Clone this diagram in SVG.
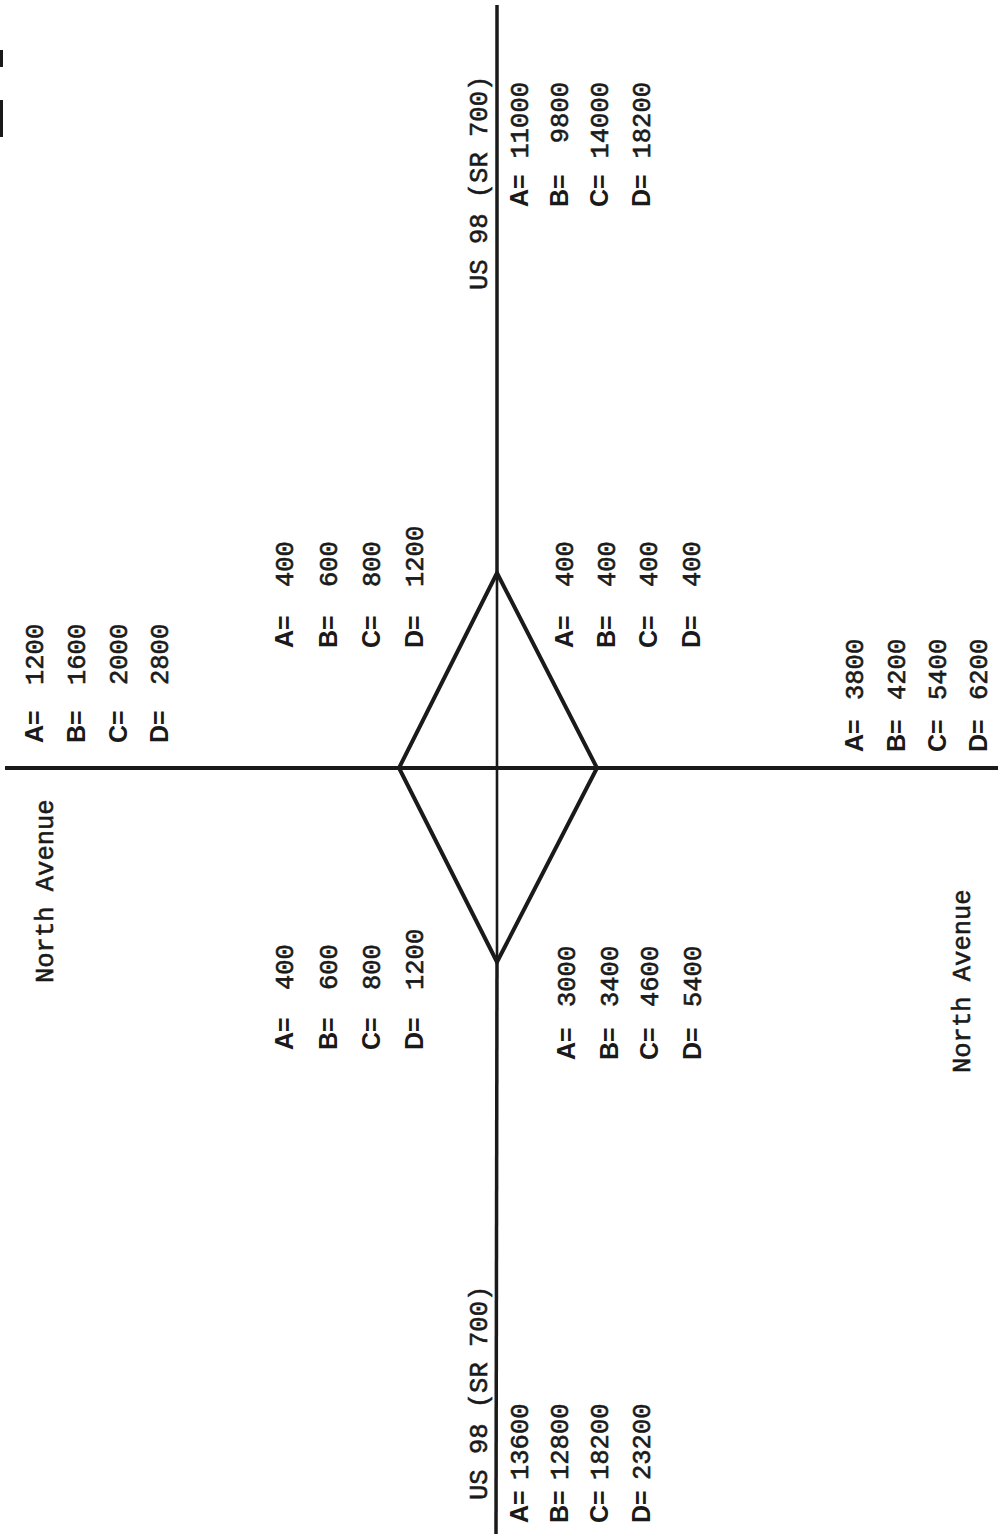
<svg xmlns="http://www.w3.org/2000/svg" width="998" height="1534" viewBox="0 0 998 1534">
<style>
.ln{stroke:#1a1a1a;fill:none;stroke-linecap:butt;stroke-linejoin:miter}
.lbl{font-family:"Liberation Sans",Arial,sans-serif;font-weight:bold;font-size:25px;fill:#1a1a1a}
.val{font-family:"Liberation Mono","Courier New",monospace;font-size:25.5px;fill:#1a1a1a;stroke:#1a1a1a;stroke-width:0.6}
.road{font-family:"Liberation Mono","Courier New",monospace;font-size:25.5px;fill:#1a1a1a;stroke:#1a1a1a;stroke-width:0.6}
.end{text-anchor:end}
</style>
<rect width="998" height="1534" fill="#ffffff"/>
<g id="connectors">
<line class="ln" x1="497" y1="5" x2="497" y2="573" stroke-width="3.5"/>
<line class="ln" x1="497" y1="573" x2="497" y2="962" stroke-width="2.6"/>
<line class="ln" x1="497" y1="962" x2="496" y2="1534" stroke-width="3.5"/>
<line class="ln" x1="5" y1="768" x2="998" y2="768" stroke-width="4"/>
<polygon class="ln" points="497,573 597,768 497,962 399,768" stroke-width="4"/>
<line class="ln" x1="1.5" y1="50" x2="1.5" y2="67" stroke-width="3"/>
<line class="ln" x1="1.5" y1="100" x2="1.5" y2="137" stroke-width="3"/>
</g>
<g id="road-us98-north" transform="rotate(-90)">
<text class="road" x="-290" y="487">US 98 (SR 700)</text>
</g>
<g id="vol-north" transform="rotate(-90)">
<text class="lbl" x="-207" y="528">A=</text><text class="val end" x="-82" y="528">11000</text>
<text class="lbl" x="-207" y="568">B=</text><text class="val end" x="-82" y="568">9800</text>
<text class="lbl" x="-207" y="608">C=</text><text class="val end" x="-82" y="608">14000</text>
<text class="lbl" x="-207" y="650">D=</text><text class="val end" x="-82" y="650">18200</text>
</g>
<g id="vol-west-north" transform="rotate(-90)">
<text class="lbl" x="-743" y="43">A=</text><text class="val" x="-685" y="43">1200</text>
<text class="lbl" x="-743" y="85">B=</text><text class="val" x="-685" y="85">1600</text>
<text class="lbl" x="-743" y="127">C=</text><text class="val" x="-685" y="127">2000</text>
<text class="lbl" x="-743" y="168">D=</text><text class="val" x="-685" y="168">2800</text>
</g>
<g id="vol-ramp-nw" transform="rotate(-90)">
<text class="lbl" x="-648" y="293">A=</text><text class="val" x="-587" y="293">400</text>
<text class="lbl" x="-648" y="337">B=</text><text class="val" x="-587" y="337">600</text>
<text class="lbl" x="-648" y="380">C=</text><text class="val" x="-587" y="380">800</text>
<text class="lbl" x="-648" y="423">D=</text><text class="val" x="-587" y="423">1200</text>
</g>
<g id="vol-ramp-ne" transform="rotate(-90)">
<text class="lbl" x="-648" y="573">A=</text><text class="val" x="-587" y="573">400</text>
<text class="lbl" x="-648" y="615">B=</text><text class="val" x="-587" y="615">400</text>
<text class="lbl" x="-648" y="657">C=</text><text class="val" x="-587" y="657">400</text>
<text class="lbl" x="-648" y="700">D=</text><text class="val" x="-587" y="700">400</text>
</g>
<g id="vol-east-north" transform="rotate(-90)">
<text class="lbl" x="-752" y="863">A=</text><text class="val" x="-700" y="863">3800</text>
<text class="lbl" x="-752" y="905">B=</text><text class="val" x="-700" y="905">4200</text>
<text class="lbl" x="-752" y="946">C=</text><text class="val" x="-700" y="946">5400</text>
<text class="lbl" x="-752" y="987">D=</text><text class="val" x="-700" y="987">6200</text>
</g>
<g id="road-north-ave-west" transform="rotate(-90)">
<text class="road" x="-983" y="53">North Avenue</text>
</g>
<g id="vol-ramp-sw" transform="rotate(-90)">
<text class="lbl" x="-1050" y="293">A=</text><text class="val" x="-990" y="293">400</text>
<text class="lbl" x="-1050" y="337">B=</text><text class="val" x="-990" y="337">600</text>
<text class="lbl" x="-1050" y="380">C=</text><text class="val" x="-990" y="380">800</text>
<text class="lbl" x="-1050" y="423">D=</text><text class="val" x="-990" y="423">1200</text>
</g>
<g id="vol-ramp-se" transform="rotate(-90)">
<text class="lbl" x="-1060" y="575">A=</text><text class="val" x="-1007" y="575">3000</text>
<text class="lbl" x="-1060" y="618">B=</text><text class="val" x="-1007" y="618">3400</text>
<text class="lbl" x="-1060" y="658">C=</text><text class="val" x="-1007" y="658">4600</text>
<text class="lbl" x="-1060" y="701">D=</text><text class="val" x="-1007" y="701">5400</text>
</g>
<g id="road-north-ave-east" transform="rotate(-90)">
<text class="road" x="-1073" y="970">North Avenue</text>
</g>
<g id="road-us98-south" transform="rotate(-90)">
<text class="road" x="-1500" y="487">US 98 (SR 700)</text>
</g>
<g id="vol-south" transform="rotate(-90)">
<text class="lbl" x="-1523" y="528">A=</text><text class="val" x="-1480" y="528">13600</text>
<text class="lbl" x="-1523" y="568">B=</text><text class="val" x="-1480" y="568">12800</text>
<text class="lbl" x="-1523" y="608">C=</text><text class="val" x="-1480" y="608">18200</text>
<text class="lbl" x="-1523" y="650">D=</text><text class="val" x="-1480" y="650">23200</text>
</g>
</svg>
